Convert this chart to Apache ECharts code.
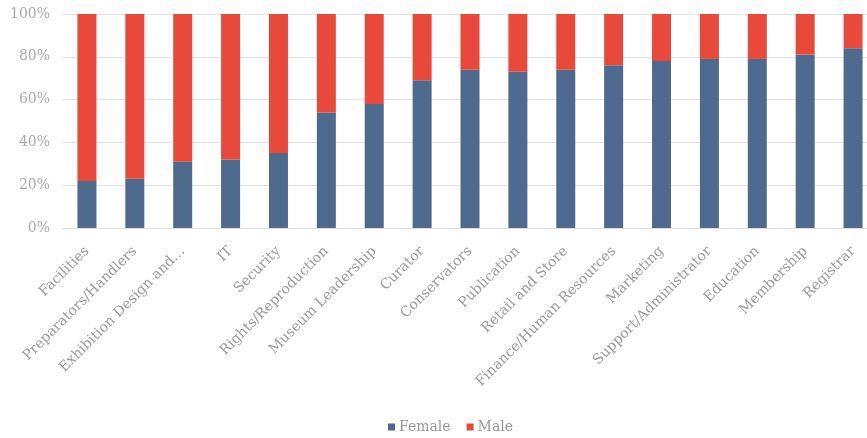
<!DOCTYPE html>
<html><head><meta charset="utf-8">
<script src="https://cdn.jsdelivr.net/npm/echarts@6/dist/echarts.min.js"></script>
<style>html,body{margin:0;padding:0;background:#fff;overflow:hidden;width:867px;height:438px}#c{width:880px;height:438px}</style>
</head><body><div id="c"></div>
<script>
var categories = ["Facilities","Preparators/Handlers","Exhibition Design and…","IT","Security","Rights/Reproduction","Museum Leadership","Curator","Conservators","Publication","Retail and Store","Finance/Human Resources","Marketing","Support/Administrator","Education","Membership","Registrar"];
var female = [22,23,31,32,35,54,58,69,74,73,74,76,78,79,79,81,84];
var male = female.map(function(v){return 100-v;});
var yTicks = ["0%","20%","40%","60%","80%","100%"];
var chart = echarts.init(document.getElementById('c'));
var font = "'DejaVu Serif', 'Liberation Serif', serif";
chart.setOption({
  animation:false,
  grid:{left:63, right:3, top:14, bottom:210},
  legend:{top:415, left:383, itemWidth:7, itemHeight:7, itemGap:16, icon:'rect',
    textStyle:{fontFamily:font, fontSize:14, color:'#999', padding:[0,0,0,-1]}, data:['Female','Male']},
  xAxis:{type:'category', data:categories,
    axisLine:{show:true, lineStyle:{color:'#e0e0e0'}}, axisTick:{show:false},
    axisLabel:{rotate:45, interval:0, fontFamily:font, fontSize:14, color:'#999', margin:21}},
  yAxis:{type:'value', min:0, max:100, interval:20,
    axisLabel:{formatter:function(v){return yTicks[v/20];}, fontFamily:font, fontSize:14, color:'#aaa', margin:13},
    splitLine:{lineStyle:{color:'#e2e2e2'}}, axisLine:{show:false}, axisTick:{show:false}},
  series:[
    {name:'Female', type:'bar', stack:'a', data:female, barWidth:19, itemStyle:{color:'#4e6a8e'}},
    {name:'Male', type:'bar', stack:'a', data:male, barWidth:19, itemStyle:{color:'#e8493a'}}
  ]
});
</script></body></html>
